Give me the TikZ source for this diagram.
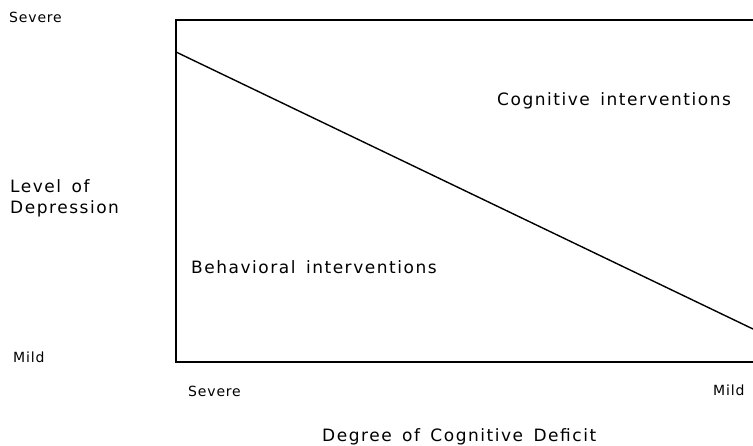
\documentclass[tikz,border=0pt]{standalone}
\usepackage{fontspec}
\setmainfont{DejaVu Sans}
\newfontfamily\labelfont{DejaVu Sans}[LetterSpace=9,WordSpace=1.5]
\newfontfamily\tickfont{DejaVu Sans}[LetterSpace=6,WordSpace=1.5]
\begin{document}
\begin{tikzpicture}[x=1pt,y=-1pt,
  frame/.style={line width=1.6pt,line join=miter},
  bigtext/.style={font=\labelfont\fontsize{17}{20}\selectfont,inner sep=0pt,anchor=base west},
  smalltext/.style={font=\tickfont\fontsize{14}{16}\selectfont,inner sep=0pt,anchor=base west}]
\useasboundingbox (0,0) rectangle (753,446);
% axes box
\coordinate (tl) at (176,20);
\coordinate (tr) at (753,20);
\coordinate (bl) at (176,362);
\coordinate (br) at (753,362);
\draw[frame] (tr) -- (tl) -- (bl) -- (br);
% dividing line between the two regions
\coordinate (dstart) at (176,52);
\coordinate (dend) at (753,329);
\draw[line width=1.4pt] (dstart) -- (dend);
% region labels
\node[bigtext] (cog) at (497,106) {Cognitive interventions};
\node[bigtext] (beh) at (191,274) {Behavioral interventions};
% vertical axis
\node[smalltext] (ysev) at (9,23) {Severe};
\node[bigtext] (ylab1) at (10,193) {Level of};
\node[bigtext] (ylab2) at (10,214) {Depression};
\node[smalltext] (ymild) at (13,363) {Mild};
% horizontal axis
\node[smalltext] (xsev) at (188,397) {Severe};
\node[smalltext] (xmild) at (713,396) {Mild};
\node[bigtext] (xlab) at (322,442) {Degree of Cognitive Deficit};
\end{tikzpicture}
\end{document}
